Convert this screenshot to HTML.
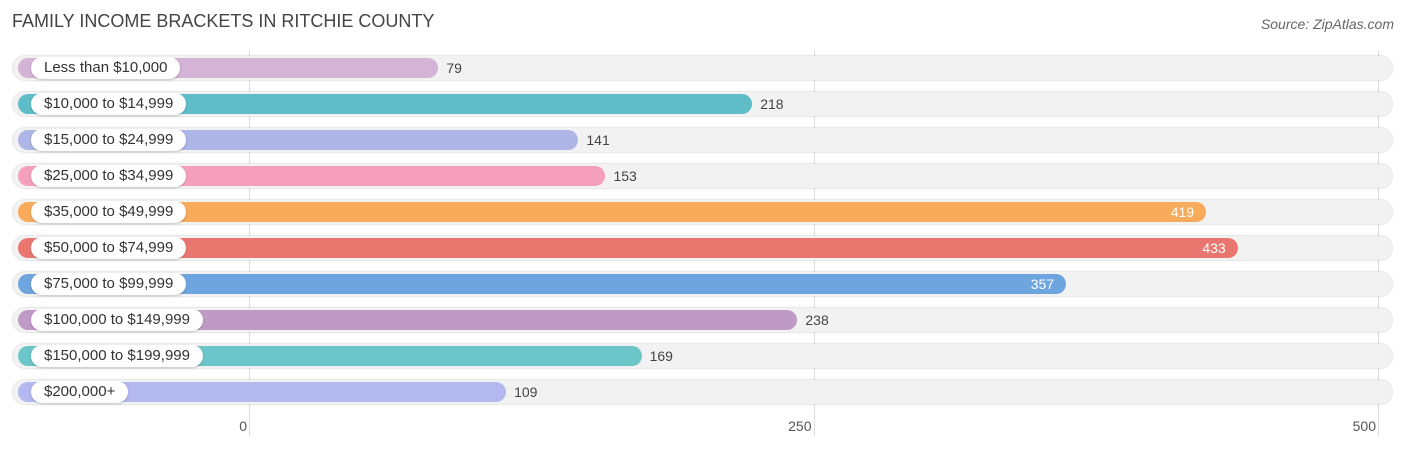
<!DOCTYPE html>
<html><head><meta charset="utf-8"><style>
body{margin:0;width:1406px;height:450px;background:#fff;font-family:"Liberation Sans",Arial,sans-serif;overflow:hidden;position:relative}
.t{position:absolute;left:12px;top:11px;font-size:18px;color:#444}
.s{position:absolute;right:12px;top:16px;font-size:14px;font-style:italic;color:#666}
.g{position:absolute;top:50px;height:386px;width:1px;background:#ddd}
.tk{position:absolute;top:418px;font-size:14px;color:#555;transform:translateX(-100%)}
.bg{position:absolute;left:13px;width:1379px;height:24px;border-radius:12px;background:#f2f2f2;box-shadow:0 0 2px rgba(0,0,0,.25)}
.bar{position:absolute;left:18px;height:20px;border-radius:10px}
.lab{position:absolute;left:31px;height:22px;line-height:22px;padding:0 13px;background:#fff;border-radius:11px;font-size:15px;color:#333;box-shadow:0 1px 2px rgba(0,0,0,.2)}
.v{position:absolute;font-size:14px;line-height:20px}
</style></head><body>
<div class="t">FAMILY INCOME BRACKETS IN RITCHIE COUNTY</div>
<div class="s">Source: ZipAtlas.com</div>
<div id="c"></div>
<script>
const categories=["Less than $10,000","$10,000 to $14,999","$15,000 to $24,999","$25,000 to $34,999","$35,000 to $49,999","$50,000 to $74,999","$75,000 to $99,999","$100,000 to $149,999","$150,000 to $199,999","$200,000+"];
const values=[79,218,141,153,419,433,357,238,169,109];
const colors=["#d3b3d6","#5fbdc9","#aeb6e8","#f59fbd","#f9ab5c","#e9776f","#6fa5de","#c09ac6","#6cc5c8","#b3b8ee"];
const ticks=[0,250,500];
const x0=249,k=(1378-249)/500;
const X=v=>x0+v*k;
const c=document.getElementById('c');
ticks.forEach(t=>{
 const g=document.createElement('div');g.className='g';g.style.left=X(t)+'px';
 
 
 c.appendChild(g);
 const l=document.createElement('div');l.className='tk';l.style.left=(X(t)-2)+'px';l.textContent=t;
 
 
 c.appendChild(l);
});
categories.forEach((cat,i)=>{
 const cy=68+i*36;
 const bg=document.createElement('div');bg.className='bg';bg.style.top=(cy-12)+'px';
 
 
 c.appendChild(bg);
 const end=X(values[i])+11;
 const b=document.createElement('div');b.className='bar';b.style.top=(cy-10)+'px';b.style.width=(end-18)+'px';b.style.background=colors[i];
 
 
 c.appendChild(b);
 const l=document.createElement('div');l.className='lab';l.style.top=(cy-11)+'px';l.textContent=cat;
 
 
 c.appendChild(l);
 const v=document.createElement('div');v.className='v';v.style.top=(cy-10)+'px';v.textContent=values[i];
 
 
 if(values[i]>300){v.style.color='#fff';v.style.left=(end-12)+'px';v.style.transform='translateX(-100%)';}
 else{v.style.color='#444';v.style.left=(end+8)+'px';}
 c.appendChild(v);
});
</script>
</body></html>
